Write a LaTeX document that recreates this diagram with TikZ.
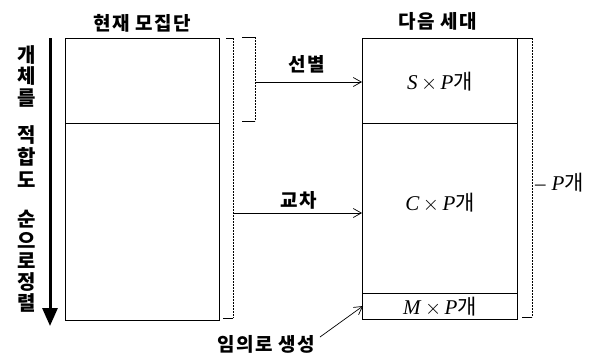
\documentclass[tikz,border=0pt]{standalone}
\usepackage{fontspec}
\setmainfont{Liberation Serif}
\newfontfamily\kr[LetterSpace=8]{Noto Sans CJK KR}
\newfontfamily\krn{Noto Sans CJK KR}
\usetikzlibrary{arrows.meta}
\newcommand{\kgae}{{\krn 개}}
\begin{document}
\begin{tikzpicture}[x=1pt,y=-1pt,
  krtext/.style={font=\kr\bfseries\fontsize{19}{19}\selectfont, inner sep=0pt},
  vch/.style={font=\krn\bfseries\fontsize{20}{20}\selectfont, inner sep=0pt},
  mathlbl/.style={font=\fontsize{21}{21}\selectfont, inner sep=0pt},
  boxline/.style={draw=black, line width=0.7pt},
  brk/.style={draw=black, line width=0.6pt, dash pattern=on 2pt off 1pt},
  conn/.style={draw=black, line width=0.7pt, -{Straight Barb[length=8pt,width=9pt]}}]
\useasboundingbox (0,0) rectangle (595,357);
% left box
\draw[boxline] (65,38) rectangle (219,320);
\draw[boxline] (65,123) -- (219,123);
% right box
\draw[boxline] (362,38) rectangle (517,319);
\draw[boxline] (362,123) -- (517,123);
\draw[boxline] (362,293) -- (517,293);
% titles
\node[krtext] (t1) at (142,23) {현재 모집단};
\node[krtext] (t2) at (438,21) {다음 세대};
% box texts
\node[mathlbl] (s) at (440,82) {\textit{S}\,$\times$\,\textit{P}\kgae};
\node[mathlbl] (c) at (440,203) {\textit{C}\,$\times$\,\textit{P}\kgae};
\node[mathlbl] (m) at (440,307) {\textit{M}\,$\times$\,\textit{P}\kgae};
% bracket 1 (whole population)
\coordinate (b1t) at (233,38);
\coordinate (b1b) at (233,318);
\draw[brk] (b1t) -- (b1b);
\draw[black, line width=0.6pt] (226,38) -- (b1t);
\draw[black, line width=0.6pt] (223,318) -- (b1b);
% bracket 2 (selection)
\coordinate (b2t) at (255,37);
\coordinate (b2b) at (255,121);
\draw[brk] (b2t) -- (b2b);
\draw[black, line width=0.6pt] (242,37) -- (b2t);
\draw[black, line width=0.6pt] (242,121) -- (b2b);
% right bracket
\coordinate (b3t) at (532,38);
\coordinate (b3b) at (532,317);
\draw[brk] (b3t) -- (b3b);
\draw[black, line width=0.6pt] (517,38) -- (b3t);
\draw[black, line width=0.6pt] (522,317) -- (b3b);
\node[mathlbl, anchor=west] (p) at (535,183) {–\;\textit{P}\kgae};
% arrows
\coordinate (sa) at (255,82);
\coordinate (se) at (362,82);
\draw[conn] (sa) -- (se);
\node[krtext] (sel) at (307,64) {선별};
\coordinate (ca) at (233,213);
\coordinate (ce) at (362,213);
\draw[conn] (ca) -- (ce);
\node[krtext] (cr) at (299,200) {교차};
\node[krtext] (rnd) at (266,344) {임의로 생성};
\coordinate (ra) at (320,337);
\coordinate (re) at (363,306);
\draw[conn] (ra) -- (re);
% sort arrow
\coordinate (sa1) at (50,38);
\coordinate (sa2) at (50,326);
\draw[line width=3pt, -{Triangle[length=18pt,width=15pt]}] (sa1) -- (sa2);
\foreach \ch/\yy in {개/55, 체/76, 를/98, 적/135, 합/157, 도/180, 순/219, 으/240, 로/261, 정/282, 렬/303}
  \node[vch] at (27,\yy) {\ch};
\end{tikzpicture}
\end{document}
